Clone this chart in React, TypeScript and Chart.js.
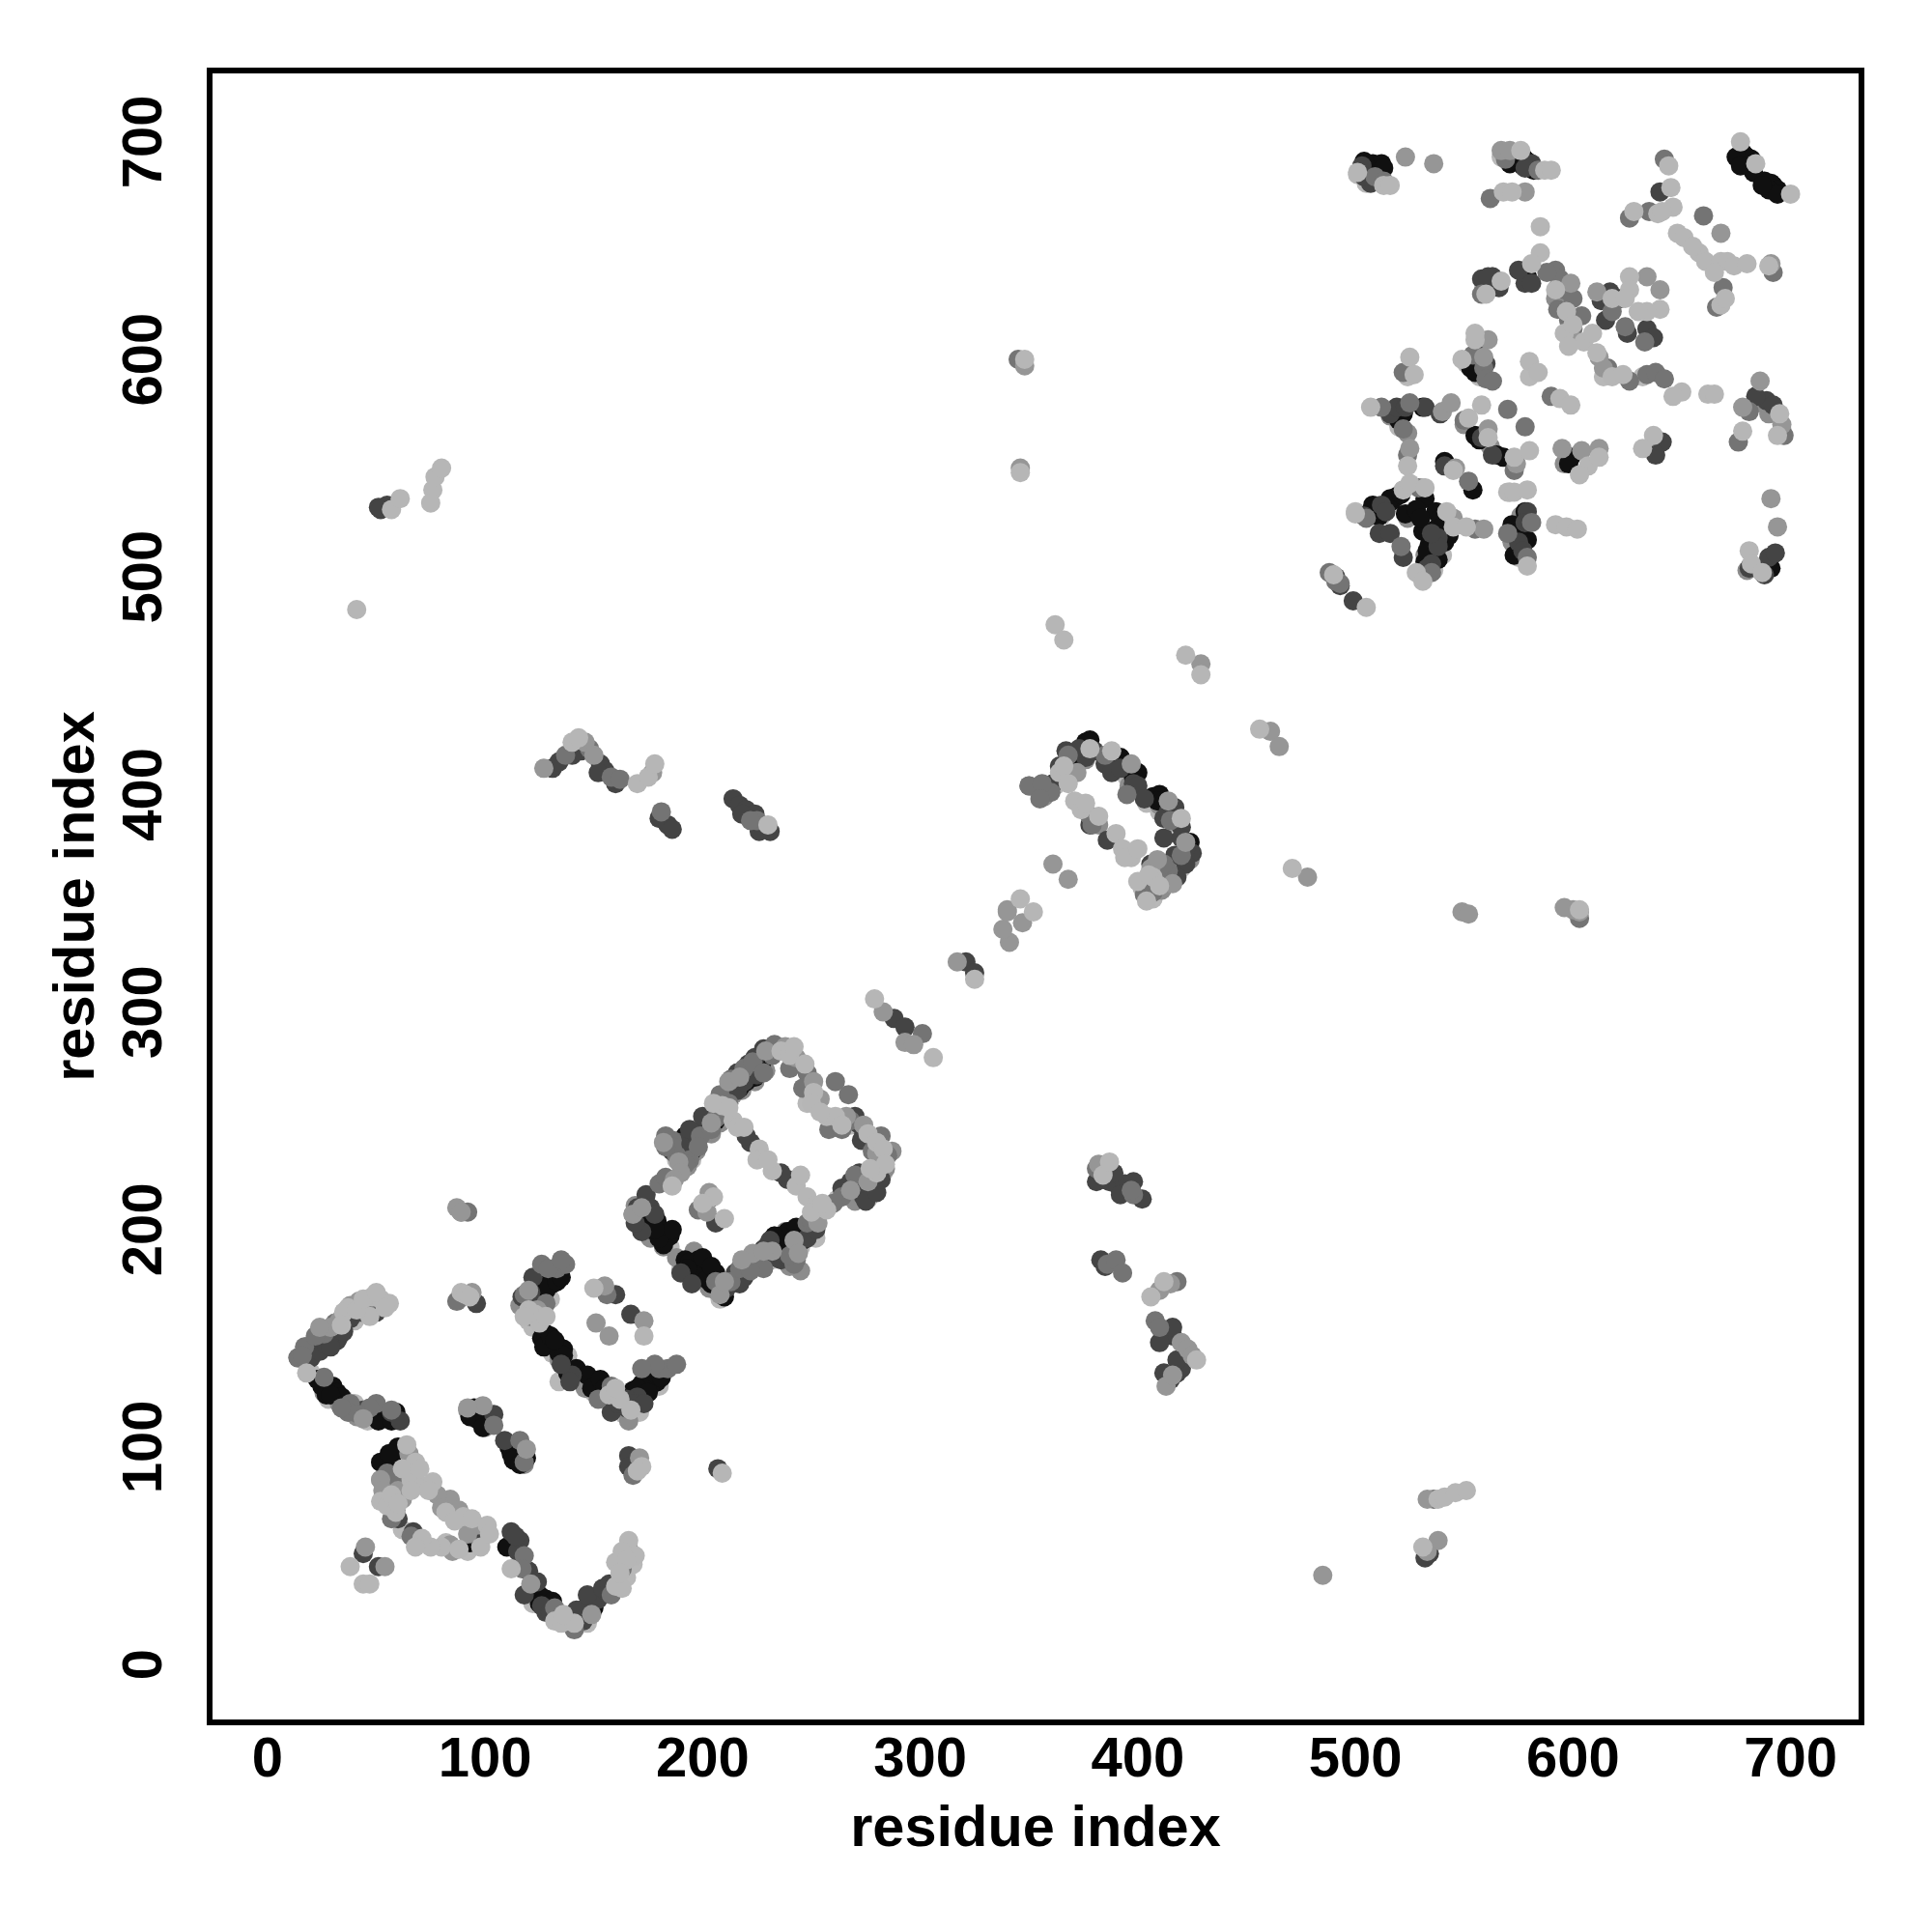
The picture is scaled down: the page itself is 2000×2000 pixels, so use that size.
import React, { useEffect, useRef } from "react";
import { Chart, registerables } from "chart.js";

Chart.register(...registerables);

type P = [number, number];

const tickValues = [0, 100, 200, 300, 400, 500, 600, 700];
const axisTitle = "residue index";

// lower layer: pale and grey halos that show from under the dark marks
const haloLight: P[] = [
  [18,139],[24,148],[28,149],[35,122],[40,120],[44,113],[52,93],[58,91],[124,170],[127,176],[120,158],[122,155],[131,143],[138,142],[143,131],[147,128],[155,122],[164,115],[168,117],[172,124],[176,127],
  [170,205],[173,200],[178,197],[185,192],[190,182],[195,178],[204,175],[208,168],[222,186],[232,186],[238,191],[245,192],[250,198],[188,232],[192,236],[198,245],[216,266],[222,272],[262,214],[268,215],[274,219],
  [354,402],[362,404],[368,412],[372,418],[388,416],[395,408],[404,396],[410,392],[416,387],[402,357],[407,352],[414,362],[420,366],
  [501,685],[505,681],[567,693],[576,692],[579,636],[559,633],[524,592],[551,598],[557,592],[580,592],[614,592],[632,592],[500,530],[512,528],[522,540],[531,541],[536,503],[540,510],[575,509],[682,506],[687,502],[696,568],[637,560],[520,569],
  [26,146],[31,155],[40,158],[48,163],[20,134],[28,122],[46,112],[128,148],[134,130],[150,125],[160,118],[171,116],[180,128],[119,160],[130,168],[215,264],[212,262],[195,232],[227,272],[248,258],[268,248],[283,226],[276,214],[236,195],[252,196],[115,45],[122,28],[147,19],[165,40],[168,46],[58,77],[62,62],[82,56],[92,52],
];
const haloGray: P[] = [
  [14,141],[20,143],[23,149],[26,125],[33,120],[41,114],[52,85],[57,82],[89,208],[88,168],[92,117],[100,109],[112,101],[118,92],[116,165],[121,166],[126,163],[134,140],[146,127],[162,118],[166,112],
  [168,207],[176,196],[182,192],[192,184],[199,178],[206,172],[228,188],[240,183],[245,181],[184,238],[190,232],[202,248],[220,270],[227,279],[276,220],[284,228],[270,213],
  [350,404],[357,399],[366,408],[376,416],[396,404],[410,395],[424,370],[411,356],[416,360],[382,386],
  [507,685],[563,638],[579,636],[592,628],[516,574],[524,566],[550,570],[562,560],[576,528],[572,516],[596,552],[690,575],[686,580],[680,503],[532,510],[524,527],
  [169,211],[172,200],[181,195],[188,187],[196,190],[203,173],[233,197],[238,199],[247,197],[193,229],[197,236],[204,244],[208,249],[214,262],[218,264],[224,268],[229,273],[280,222],[287,236],
];
const blackPoints: P[] = [
  [23,131],[25,128],[30,128],[32,125],[34,123],[53,114],[55,113],[52,93],[57,94],[60,100],[56,97],[93,56],[95,57],[95,118],[96,113],[98,115],[112,97],[114,97],[116,96],[110,54],[124,33],[126,31],[128,30],
  [123,174],[125,176],[127,178],[129,179],[131,175],[128,172],[125,171],[126,150],[128,152],[131,148],[133,147],[136,145],[138,134],[142,136],[150,130],[152,128],[168,126],[171,124],[173,127],[175,130],[177,133],[179,130],
  [173,205],[176,204],[179,204],[181,200],[183,198],[185,197],[176,200],[192,186],[194,185],[198,186],[200,183],[203,180],[205,178],[204,175],[210,169],[235,193],[238,190],[241,196],[244,197],[246,200],[191,236],[195,241],[201,248],[222,270],
  [369,415],[371,418],[376,424],[378,425],[374,418],[392,417],[400,410],[398,408],[407,399],[410,400],[409,397],[424,378],
  [508,690],[512,690],[505,687],[577,693],[579,691],[580,690],[579,638],[678,695],[680,693],[678,691],[682,692],[691,681],[692,680],[694,678],
  [522,575],[520,572],[531,578],[553,596],[555,594],[555,565],[557,563],[565,556],[568,555],[541,553],[554,540],[599,555],[598,552],[507,530],[510,528],[519,537],[517,535],[532,536],[523,529],[531,521],[537,530],[539,527],[574,519],[576,515],[532,507],[535,509],[574,522],[691,504],[690,507],
  [126,174],[128,176],[130,177],[132,179],[134,180],[124,172],[127,170],[129,174],[133,176],[135,178],[129,148],[127,146],[134,143],[130,151],[136,142],[132,149],[147,133],[149,127],[153,131],[155,127],[172,129],[174,133],[176,128],[178,134],[170,127],[180,135],[175,125],[181,132],
  [182,193],[180,196],[186,200],[177,207],[174,201],[178,200],[196,181],[198,178],[202,177],[206,180],[208,175],[200,187],[193,182],[204,183],[239,199],[243,201],[236,197],[233,197],[246,195],[195,236],[199,244],[206,250],[208,254],[203,252],[192,243],[217,265],[220,268],[225,273],[227,276],[224,270],
  [122,36],[125,28],[130,28],[129,25],[131,29],[147,23],[150,26],[148,30],[27,124],[29,124],[36,120],[51,112],[59,116],[57,112],[93,114],[97,118],[100,112],[99,109],[111,100],[113,94],[116,92],[119,95],
  [506,688],[510,686],[504,691],[513,688],[577,689],[574,692],[571,690],[582,687],[680,690],[675,693],[683,686],[677,689],[688,682],[690,678],[694,676],[687,680],
  [514,533],[516,536],[508,533],[511,528],[521,538],[528,531],[530,527],[534,515],[537,522],[540,523],[533,512],[538,508],[541,516],[543,519],[578,530],[576,522],[572,524],[579,517],[573,510],
];
const darkPoints: P[] = [
  [18,146],[22,147],[30,151],[32,149],[44,117],[57,116],[61,112],[104,115],[109,103],[60,67],[96,59],[67,61],[44,51],[51,45],[112,61],[116,57],[118,32],[128,24],[145,20],[146,26],[152,30],[143,23],[149,28],
  [96,166],[166,96],[166,91],[207,90],[160,170],[167,161],[170,123],[165,118],[140,133],[122,178],[119,168],
  [174,216],[176,210],[170,210],[178,207],[190,235],[193,240],[197,244],[222,240],[220,243],[239,223],[236,226],[271,249],[274,245],[277,224],[271,219],[274,215],[230,193],[236,186],[219,178],[217,175],[211,173],[216,272],[221,276],[224,279],[203,214],[206,203],
  [376,417],[373,421],[398,405],[412,389],[417,394],[425,373],[422,375],[386,379],[378,386],[408,360],
  [503,689],[507,681],[504,684],[581,690],[578,688],[563,638],[561,634],[558,637],[640,677],[617,631],[634,614],[593,633],[578,635],
  [516,575],[519,578],[523,578],[532,578],[539,575],[558,564],[563,556],[541,551],[504,528],[512,533],[514,530],[511,520],[516,520],[522,509],[538,518],[538,514],[535,520],[533,504],[535,506],[579,530],[578,525],[575,516],[577,512],[641,562],[638,556],[689,581],[692,579],[684,583],[690,509],[693,511],[688,501],[681,504],[493,496],[499,489],[491,500],
  [321,323],[325,318],[288,297],[293,293],[381,222],[387,222],[391,220],[394,221],[402,214],[383,186],[385,183],[413,152],[416,151],[415,131],[418,134],[420,136],[532,49],[534,51],[131,412],[134,415],[153,414],[155,411],[180,389],[184,386],[186,384],[214,398],[217,395],[220,393],[224,391],[228,385],[231,383],[51,532],[55,533],[52,531],
  [115,52],[114,59],[120,43],[124,38],[126,27],[130,24],[138,20],[142,25],[147,32],[154,35],[157,37],[20,141],[24,144],[27,147],[33,151],[35,153],[29,146],[38,159],[43,162],[50,162],[52,165],[119,161],[123,166],[117,169],[121,171],[135,138],[139,130],[158,116],[161,120],[165,122],[169,120],[173,120],
  [172,199],[169,203],[190,180],[195,175],[215,180],[221,183],[228,191],[231,195],[234,187],[239,187],[248,196],[252,200],[186,236],[189,240],[194,246],[200,252],[216,264],[219,268],[225,271],[228,283],[272,226],[268,222],[264,219],[275,213],[280,217],[282,223],[270,252],[273,241],
  [361,405],[364,413],[367,420],[380,420],[385,414],[388,410],[392,412],[400,404],[403,398],[414,392],[420,385],[412,380],[417,372],[422,368],[420,380],[418,362],[406,368],
  [140,418],[144,420],[152,410],[160,405],[218,391],[226,383],[389,226],[392,216],[398,222],[416,155],[410,148],[418,140],[412,134],[560,598],[556,603],[561,638],[566,633],[575,641],[581,635],[622,628],[613,627],[615,618],[625,612],[637,610],
];
const midPoints: P[] = [
  [14,141],[17,146],[26,152],[45,165],[38,120],[26,132],[50,120],[47,118],[57,117],[56,85],[57,67],[66,59],[104,110],[116,103],[118,93],[118,50],[117,44],[132,26],[141,16],[158,32],[163,44],[87,167],[92,208],[168,87],[133,182],[137,184],[156,170],[180,136],[184,136],[188,138],[160,124],
  [183,243],[186,241],[188,234],[194,232],[180,221],[183,224],[213,176],[217,182],[225,187],[243,186],[242,184],[248,203],[199,243],[206,251],[213,269],[219,274],[223,277],[233,285],[248,272],[261,268],[267,262],[285,234],[268,250],[281,232],[264,215],[198,209],
  [350,404],[360,401],[356,405],[378,390],[379,386],[407,355],[414,365],[384,226],[398,216],[397,218],[381,228],[386,184],[390,186],[393,180],[408,158],[410,155],[418,176],[137,418],[148,421],[158,408],[162,407],[181,392],[225,388],[222,388],[603,343],[345,600],
  [562,674],[592,641],[594,637],[596,632],[593,623],[600,614],[616,596],[626,590],[634,593],[638,594],[642,591],[642,692],[584,687],[569,692],[660,666],[669,633],[666,624],[692,640],[635,668],[626,665],[618,622],[624,615],[633,608],
  [522,594],[559,596],[560,591],[590,583],[522,568],[525,580],[550,572],[570,577],[578,569],[573,549],[524,556],[529,541],[552,544],[512,578],[505,527],[521,514],[535,502],[581,525],[570,520],[579,509],[681,576],[676,562],[697,565],[555,522],[491,498],[488,502],[493,497],[301,290],[536,76],
  [16,142],[22,151],[31,157],[40,165],[37,116],[34,118],[42,115],[55,88],[60,86],[59,71],[121,160],[118,170],[126,184],[129,182],[135,186],[128,166],[152,122],[158,128],[178,138],[172,136],
  [186,238],[183,238],[192,230],[198,238],[204,246],[212,258],[208,262],[228,272],[232,280],[240,274],[246,265],[258,246],[264,246],[278,236],[282,243],[260,212],[270,225],[250,204],[240,188],[228,182],[222,181],[206,176],
  [368,418],[385,418],[395,400],[415,388],[403,354],[412,368],[420,372],[355,398],[509,684],[513,682],[588,640],[600,628],[604,620],[598,618],[558,630],[554,602],[563,590],
];
const grayPoints: P[] = [
  [33,158],[29,155],[44,113],[99,119],[92,118],[119,99],[65,97],[52,85],[84,76],[84,70],[96,64],[84,55],[45,54],[54,45],[121,37],[149,23],[166,53],[171,95],[87,210],[89,208],[94,171],[173,158],[151,157],[157,151],
  [155,174],[168,207],[182,240],[189,231],[208,170],[223,189],[232,190],[252,206],[251,268],[243,279],[229,282],[266,252],[276,222],[203,217],[190,226],[242,195],
  [361,368],[368,361],[340,347],[347,341],[341,332],[338,338],[397,414],[414,397],[422,378],[340,346],[317,323],[283,300],[293,286],[297,285],[382,230],[410,172],[415,175],[420,148],[423,145],[425,142],[413,128],[416,133],
  [127,412],[146,424],[150,418],[177,410],[478,362],[461,429],[465,422],[549,346],[552,345],[600,347],[596,348],[603,346],[346,550],[348,597],[429,460],[533,76],[538,57],[485,41],[533,52],
  [523,693],[536,690],[567,696],[571,696],[578,677],[561,609],[559,601],[612,601],[599,635],[611,631],[634,638],[640,632],[668,658],[600,609],[614,596],
  [540,576],[546,550],[561,568],[595,559],[604,558],[612,559],[525,559],[691,536],[694,523],[686,590],[696,570],[678,578],[545,527],[559,522],[574,552],[544,580],[571,539],[691,644],
  [24,155],[38,165],[42,167],[60,80],[62,76],[78,78],[88,71],[80,72],[92,60],[85,52],[53,80],[124,163],[120,172],[172,210],[187,223],[202,208],[244,189],[253,203],[210,176],[218,186],[228,190],[204,249],[212,268],[217,270],[238,284],[254,260],[274,248],[280,235],[268,218],[372,410],[406,366],[409,370],[416,359],
];
const lightPoints: P[] = [
  [37,164],[35,162],[48,169],[52,168],[56,166],[47,160],[41,163],[18,134],[64,101],[68,93],[66,85],[72,82],[76,84],[52,75],[55,73],[59,70],[90,68],[94,67],[101,64],[98,54],[80,54],[75,54],[71,58],[38,45],[44,37],[47,37],[112,44],[132,20],[135,19],[141,19],[160,36],[163,35],[160,47],[169,50],[166,57],[163,52],[172,91],[170,89],
  [89,171],[91,170],[93,169],[150,173],[173,151],[123,161],[125,157],[120,163],[157,124],[162,122],[167,117],[209,88],
  [214,250],[216,247],[226,237],[225,232],[232,227],[243,220],[248,215],[252,211],[257,209],[209,257],[205,258],[236,282],[240,280],[251,263],[250,258],[257,252],[261,252],[276,244],[280,240],[283,237],[280,226],[205,215],[210,205],[200,212],
  [364,410],[366,413],[378,421],[388,420],[371,397],[374,393],[382,390],[390,382],[393,375],[397,371],[394,371],[420,389],[407,362],[400,360],[404,351],[346,352],[352,346],
  [384,225],[387,231],[406,169],[412,176],[427,140],[140,424],[143,426],[170,405],[175,408],[178,414],[41,485],[57,531],[61,536],[76,540],[77,546],[80,550],[75,534],[348,600],[362,478],[366,471],[422,464],[429,455],[471,366],[456,430],[279,306],[306,279],[325,315],[230,386],[603,347],[346,548],[538,76],[541,77],[546,79],[551,80],[531,54],
  [501,686],[513,680],[516,680],[576,696],[568,677],[572,677],[587,687],[590,687],[585,661],[585,649],[581,644],[567,636],[560,630],[592,632],[597,622],[596,612],[605,608],[611,603],[618,592],[623,593],[644,689],[645,679],[646,670],[628,668],[639,667],[648,658],[651,656],[658,649],[661,645],[668,645],[671,645],[674,643],[680,644],[690,643],[677,700],[684,690],[700,676],[668,625],[618,628],[626,638],[626,632],[624,628],[640,623],[634,622],[630,622],
  [525,601],[527,593],[555,609],[549,600],[580,599],[584,594],[594,582],[599,579],[650,585],[646,583],[662,584],[665,584],[678,567],[695,575],[694,565],[637,565],[632,559],[507,578],[558,579],[552,573],[561,564],[573,555],[580,558],[607,551],[603,547],[612,555],[524,551],[545,549],[570,539],[573,539],[579,540],[579,505],[500,529],[522,540],[525,543],[532,541],[542,530],[545,523],[528,502],[531,498],[551,523],[592,524],[597,523],[602,522],[681,512],[682,506],[687,502],[490,501],[505,486],
  [34,156],[44,168],[50,171],[54,164],[62,90],[70,90],[74,80],[66,80],[57,78],[60,74],[82,70],[86,66],[68,54],[88,53],[102,60],[165,48],[162,42],[136,23],[128,160],[118,160],[160,127],[186,220],[212,256],[219,247],[230,232],[245,225],[250,208],[255,212],[242,284],[247,276],[254,254],[264,248],[284,230],[277,228],[368,405],[376,396],[400,375],[405,363],[410,358],[555,612],[600,616],[609,612],[598,606],[641,668],[655,652],[665,640],[670,628],
];

const shades: { points: P[]; color: string }[] = [
  { points: haloLight, color: "#b8b8b8" },
  { points: haloGray, color: "#8c8c8c" },
  { points: blackPoints, color: "#101010" },
  { points: darkPoints, color: "#444444" },
  { points: midPoints, color: "#747474" },
  { points: grayPoints, color: "#969696" },
  { points: lightPoints, color: "#b6b6b6" },
];

const frame = {
  id: "frame",
  afterDraw(chart: any) {
    const { ctx, chartArea: a } = chart;
    ctx.save();
    ctx.strokeStyle = "#000";
    ctx.lineWidth = 6;
    ctx.strokeRect(a.left, a.top, a.right - a.left, a.bottom - a.top);
    ctx.restore();
  },
};

export default function App() {
  const ref = useRef<HTMLCanvasElement>(null);
  useEffect(() => {
    const font = { family: "'Liberation Sans'", weight: "bold" as const, size: 58 };
    const titleFont = { family: "'Liberation Sans'", weight: "bold" as const, size: 59.5 };
    const chart = new Chart(ref.current!, {
      type: "scatter",
      data: {
        datasets: shades.map((s, i) => ({
          data: s.points.map(([x, y]) => ({ x, y })),
          backgroundColor: s.color,
          borderWidth: 0,
          pointRadius: 10,
          order: shades.length - i,
        })),
      },
      plugins: [frame],
      options: {
        responsive: false,
        animation: false,
        layout: { padding: { top: 73, right: 73, left: 0, bottom: 0 } },
        plugins: { legend: { display: false }, tooltip: { enabled: false } },
        scales: {
          x: {
            type: "linear",
            min: -26.6,
            max: 732.6,
            afterFit: (s: any) => { s.height = 217; },
            afterBuildTicks: (s: any) => { s.ticks = tickValues.map((value) => ({ value })); },
            grid: { display: false, drawTicks: false },
            border: { display: false },
            ticks: { color: "#000", font, padding: 5, maxRotation: 0, autoSkip: false },
            title: { display: true, text: axisTitle, color: "#000", font: titleFont, padding: { top: 6, bottom: 70 } },
          },
          y: {
            type: "linear",
            min: -26.6,
            max: 732.8,
            afterFit: (s: any) => { s.width = 217; },
            afterBuildTicks: (s: any) => { s.ticks = tickValues.map((value) => ({ value })); },
            grid: { display: false, drawTicks: false },
            border: { display: false },
            ticks: { color: "#000", font, padding: 18, minRotation: 90, maxRotation: 90, crossAlign: "center", autoSkip: false },
            title: { display: true, text: axisTitle, color: "#000", font: titleFont, padding: { top: 45, bottom: 0 } },
          },
        },
      },
    });
    return () => chart.destroy();
  }, []);
  return <canvas ref={ref} width={2000} height={2000} style={{ position: "absolute", left: 0, top: 0, display: "block" }} />;
}
